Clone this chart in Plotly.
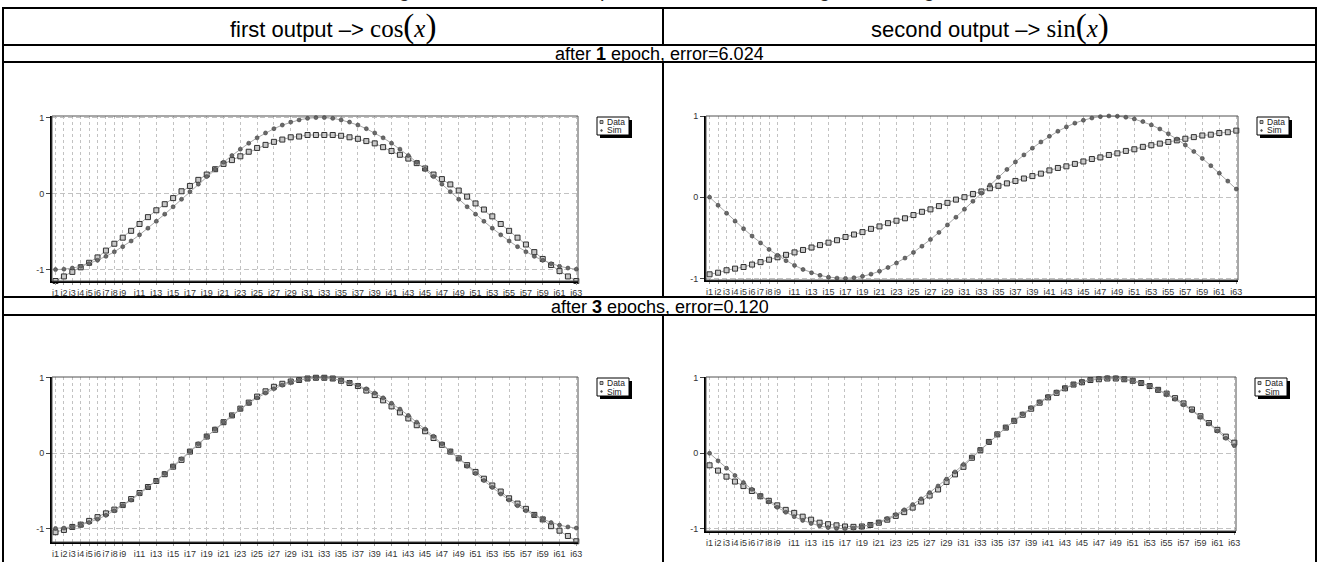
import plotly.graph_objects as go

W, H = 1319, 562

# ---------------- data ----------------
categories = [f"i{k}" for k in range(1, 64)]
tick_labels = [f"i{k}" for k in range(1, 10)] + [f"i{k}" for k in range(11, 64, 2)]
y_tick_vals = [-1, 0, 1]
y_tick_text = ["-1", "0", "1"]

sim_cos = [-1.00, -0.995, -0.98, -0.956, -0.922, -0.878, -0.826, -0.766, -0.698, -0.624,
           -0.543, -0.456, -0.365, -0.271, -0.174, -0.075, 0.025, 0.124, 0.223, 0.319,
           0.411, 0.50, 0.584, 0.662, 0.733, 0.797, 0.853, 0.901, 0.940, 0.969,
           0.989, 0.999, 0.999, 0.989, 0.969, 0.940, 0.901, 0.853, 0.797, 0.733,
           0.662, 0.584, 0.50, 0.411, 0.319, 0.223, 0.124, 0.025, -0.075, -0.174,
           -0.271, -0.365, -0.456, -0.543, -0.624, -0.698, -0.766, -0.826, -0.878, -0.922,
           -0.956, -0.98, -0.995]

sim_sin = [0.0, -0.10, -0.198, -0.295, -0.388, -0.478, -0.563, -0.643, -0.716, -0.782,
           -0.84, -0.89, -0.931, -0.963, -0.985, -0.997, -1.0, -0.992, -0.975, -0.948,
           -0.912, -0.866, -0.812, -0.75, -0.68, -0.604, -0.521, -0.434, -0.342, -0.247,
           -0.149, -0.05, 0.05, 0.149, 0.247, 0.342, 0.434, 0.521, 0.604, 0.68,
           0.75, 0.812, 0.866, 0.912, 0.948, 0.975, 0.992, 1.0, 0.997, 0.985,
           0.963, 0.931, 0.89, 0.84, 0.782, 0.716, 0.643, 0.563, 0.478, 0.388,
           0.295, 0.198, 0.10]

data_cos_1 = [-1.15, -1.09, -1.03, -0.97, -0.91, -0.84, -0.75, -0.66, -0.58, -0.49,
              -0.40, -0.31, -0.22, -0.14, -0.06, 0.03, 0.10, 0.18, 0.25, 0.32,
              0.39, 0.44, 0.49, 0.55, 0.60, 0.64, 0.68, 0.71, 0.74, 0.75,
              0.77, 0.77, 0.77, 0.77, 0.76, 0.74, 0.72, 0.69, 0.66, 0.61,
              0.56, 0.51, 0.46, 0.40, 0.33, 0.25, 0.19, 0.12, 0.04, -0.04,
              -0.13, -0.21, -0.30, -0.40, -0.49, -0.58, -0.67, -0.77, -0.86, -0.94,
              -1.02, -1.09, -1.15]

data_sin_1 = [-0.95, -0.93, -0.90, -0.88, -0.86, -0.83, -0.80, -0.77, -0.74, -0.71,
              -0.68, -0.65, -0.62, -0.59, -0.56, -0.53, -0.49, -0.46, -0.43, -0.39,
              -0.36, -0.32, -0.29, -0.26, -0.22, -0.18, -0.15, -0.11, -0.07, -0.03,
              0.00, 0.04, 0.07, 0.11, 0.14, 0.17, 0.20, 0.23, 0.26, 0.29,
              0.33, 0.36, 0.38, 0.41, 0.44, 0.47, 0.49, 0.52, 0.54, 0.57,
              0.59, 0.62, 0.64, 0.66, 0.68, 0.70, 0.72, 0.74, 0.76, 0.77,
              0.79, 0.80, 0.82]

data_cos_3 = [-1.05, -1.02, -0.98, -0.95, -0.90, -0.85, -0.80, -0.75, -0.69, -0.61,
              -0.53, -0.45, -0.37, -0.28, -0.18, -0.09, 0.02, 0.11, 0.22, 0.31,
              0.41, 0.50, 0.59, 0.67, 0.75, 0.82, 0.88, 0.92, 0.95, 0.97,
              0.99, 1.0, 1.0, 0.99, 0.96, 0.93, 0.89, 0.83, 0.77, 0.70,
              0.62, 0.54, 0.46, 0.37, 0.29, 0.20, 0.11, 0.02, -0.07, -0.16,
              -0.25, -0.34, -0.43, -0.51, -0.60, -0.67, -0.74, -0.82, -0.88, -0.97,
              -1.03, -1.10, -1.17]

data_sin_3 = [-0.16, -0.23, -0.31, -0.375, -0.435, -0.50, -0.57, -0.63, -0.69, -0.75,
              -0.79, -0.84, -0.88, -0.92, -0.94, -0.955, -0.97, -0.975, -0.97, -0.95,
              -0.92, -0.88, -0.83, -0.78, -0.72, -0.64, -0.56, -0.48, -0.38, -0.28,
              -0.18, -0.06, 0.04, 0.15, 0.25, 0.34, 0.43, 0.51, 0.59, 0.67,
              0.74, 0.80, 0.86, 0.91, 0.94, 0.97, 0.98, 0.99, 0.99, 0.98,
              0.96, 0.93, 0.89, 0.84, 0.79, 0.73, 0.66, 0.58, 0.49, 0.40,
              0.31, 0.22, 0.14]

# ---------------- layout geometry (pixels) ----------------
TL, TM, TR = 3, 663, 1316
LINES_Y = [8, 45, 62, 297, 315]

charts = [
    # (x0, x1, y_top, y_bottom, yrange, data, sim)
    (52, 578, 116, 281, [-1.15, 1.02], data_cos_1, sim_cos),
    (706, 1238, 116, 280, [-1.02, 1.0], data_sin_1, sim_sin),
    (52, 578, 377, 542, [-1.18, 1.01], data_cos_3, sim_cos),
    (706, 1236, 377, 531, [-1.03, 1.01], data_sin_3, sim_sin),
]

def px(x):
    return x / W

def py(y):
    return 1 - y / H

fig = go.Figure()
shapes = []
annotations = []
layout_axes = {}

GRID = "#c2c2c2"
tickfont = dict(family="Liberation Sans", size=9, color="#333333")

for i, (x0, x1, yt, yb, yr, dat, sim) in enumerate(charts, start=1):
    xs = "" if i == 1 else str(i)
    layout_axes[f"xaxis{xs}"] = dict(
        domain=[px(x0), px(x1)], anchor=f"y{xs}", type="category",
        categoryorder="array", categoryarray=categories,
        range=[-0.42, 62.2], tickmode="array", tickvals=tick_labels, ticktext=tick_labels,
        showgrid=True, gridcolor=GRID, griddash="3px,3px", gridwidth=1,
        showline=True, linecolor="black", linewidth=2,
        ticks="outside", ticklen=2, tickcolor="#9a9a9a", tickwidth=1,
        tickfont=tickfont, tickangle=0, zeroline=False, fixedrange=True,
        automargin=False,
    )
    layout_axes[f"yaxis{xs}"] = dict(
        domain=[py(yb), py(yt)], anchor=f"x{xs}", range=yr,
        tickmode="array", tickvals=y_tick_vals, ticktext=y_tick_text,
        showgrid=True, gridcolor=GRID, griddash="5px,3px", gridwidth=1,
        showline=True, linecolor="black", linewidth=2,
        ticks="outside", ticklen=4, tickcolor="#444", tickwidth=1,
        tickfont=dict(family="Liberation Sans", size=9, color="#333333"),
        zeroline=False, fixedrange=True, automargin=False,
    )
    # thin frame on top / right
    shapes.append(dict(type="rect", xref=f"x{xs} domain", yref=f"y{xs} domain",
                       x0=0, x1=1, y0=0, y1=1, line=dict(color="#505050", width=1),
                       layer="above"))
    fig.add_trace(go.Scatter(
        x=categories, y=dat, xaxis=f"x{xs}", yaxis=f"y{xs}", mode="lines+markers",
        name="Data", showlegend=False, line=dict(color="#a8a8a8", width=1),
        cliponaxis=False,
        marker=dict(symbol="square", size=5, color="#c8c8c8",
                    line=dict(color="#303030", width=1)),
    ))
    fig.add_trace(go.Scatter(
        x=categories, y=sim, xaxis=f"x{xs}", yaxis=f"y{xs}", mode="lines+markers",
        name="Sim", showlegend=False, line=dict(color="#a8a8a8", width=1),
        cliponaxis=False,
        marker=dict(symbol="circle", size=4, color="#6a6a6a",
                    line=dict(color="#404040", width=0.6)),
    ))
    # legend box (drawn manually to mimic the original style)
    lx, ly = x1 + 19, yt + 1
    lw, lh = 32, 18
    shapes.append(dict(type="rect", xref="paper", yref="paper",
                       x0=px(lx + 3), x1=px(lx + lw + 3), y0=py(ly + lh + 3), y1=py(ly + 3),
                       fillcolor="black", line=dict(width=0)))
    shapes.append(dict(type="rect", xref="paper", yref="paper",
                       x0=px(lx), x1=px(lx + lw), y0=py(ly + lh), y1=py(ly),
                       fillcolor="white", line=dict(color="black", width=1)))
    shapes.append(dict(type="rect", xref="paper", yref="paper",
                       x0=px(lx + 3), x1=px(lx + 6), y0=py(ly + 6.5), y1=py(ly + 3.5),
                       fillcolor="#bbbbbb", line=dict(color="#333", width=0.8)))
    shapes.append(dict(type="circle", xref="paper", yref="paper",
                       x0=px(lx + 3.6), x1=px(lx + 5.4), y0=py(ly + 14.4), y1=py(ly + 12.6),
                       fillcolor="#555", line=dict(color="#333", width=0.5)))
    for txt, yy in (("Data", ly + 5), ("Sim", ly + 13.5)):
        annotations.append(dict(text=txt, xref="paper", yref="paper", x=px(lx + 8), y=py(yy),
                                xanchor="left", yanchor="middle", showarrow=False,
                                font=dict(family="Liberation Sans", size=8.5, color="#222")))

# ---------------- table lines ----------------
for y in LINES_Y:
    shapes.append(dict(type="line", xref="paper", yref="paper",
                       x0=px(TL - 1), x1=px(TR + 1), y0=py(y), y1=py(y),
                       line=dict(color="black", width=2)))
for x in (TL, TR):
    shapes.append(dict(type="line", xref="paper", yref="paper",
                       x0=px(x), x1=px(x), y0=py(LINES_Y[0]), y1=py(H + 5),
                       line=dict(color="black", width=2)))
for (ya, yb) in ((LINES_Y[0], LINES_Y[1]), (LINES_Y[2], LINES_Y[3]), (LINES_Y[4], H + 5)):
    shapes.append(dict(type="line", xref="paper", yref="paper",
                       x0=px(TM), x1=px(TM), y0=py(ya), y1=py(yb),
                       line=dict(color="black", width=2)))

# ---------------- texts ----------------
serif = "font-family:Liberation Serif"
def header(label, fn):
    return (f"{label} –> <span style='{serif};font-size:25px'>{fn}</span>"
            f"<span style='{serif};font-size:33px'>(</span>"
            f"<span style='{serif};font-size:25px'><i>x</i></span>"
            f"<span style='{serif};font-size:33px'>)</span>")

hy = (LINES_Y[0] + LINES_Y[1]) / 2
for txt, xc in ((header("first output", "cos"), (TL + TM) / 2),
                (header("second output", "sin"), (TM + TR) / 2)):
    annotations.append(dict(text=txt, xref="paper", yref="paper",
                            x=px(xc), y=py(hy), xanchor="center", yanchor="middle",
                            showarrow=False,
                            font=dict(family="Liberation Sans", size=22, color="black")))
for txt, yc in (("after <b>1</b> epoch, error=6.024", (LINES_Y[1] + LINES_Y[2]) / 2),
                ("after <b>3</b> epochs, error=0.120", (LINES_Y[3] + LINES_Y[4]) / 2)):
    annotations.append(dict(text=txt, xref="paper", yref="paper",
                            x=px((TL + TR) / 2), y=py(yc), xanchor="center", yanchor="middle",
                            showarrow=False, height=15, borderpad=0,
                            font=dict(family="Liberation Sans", size=18, color="black")))
# figure caption, cut off at the top edge of the page
annotations.append(dict(text="Figure 4: Plots of the outputs of the network during the training",
                        xref="paper", yref="paper", x=px(658), y=py(-10), showarrow=False,
                        xanchor="center", yanchor="middle",
                        font=dict(family="Liberation Sans", size=20, color="#222")))

fig.update_layout(
    width=W, height=H, margin=dict(l=0, r=0, t=0, b=0, autoexpand=False),
    paper_bgcolor="white", plot_bgcolor="white",
    showlegend=False, shapes=shapes, annotations=annotations,
    **layout_axes,
)

fig.write_html("out.html", config={"displayModeBar": False},
               post_script="document.body.style.margin='0';document.body.style.overflow='hidden';")
